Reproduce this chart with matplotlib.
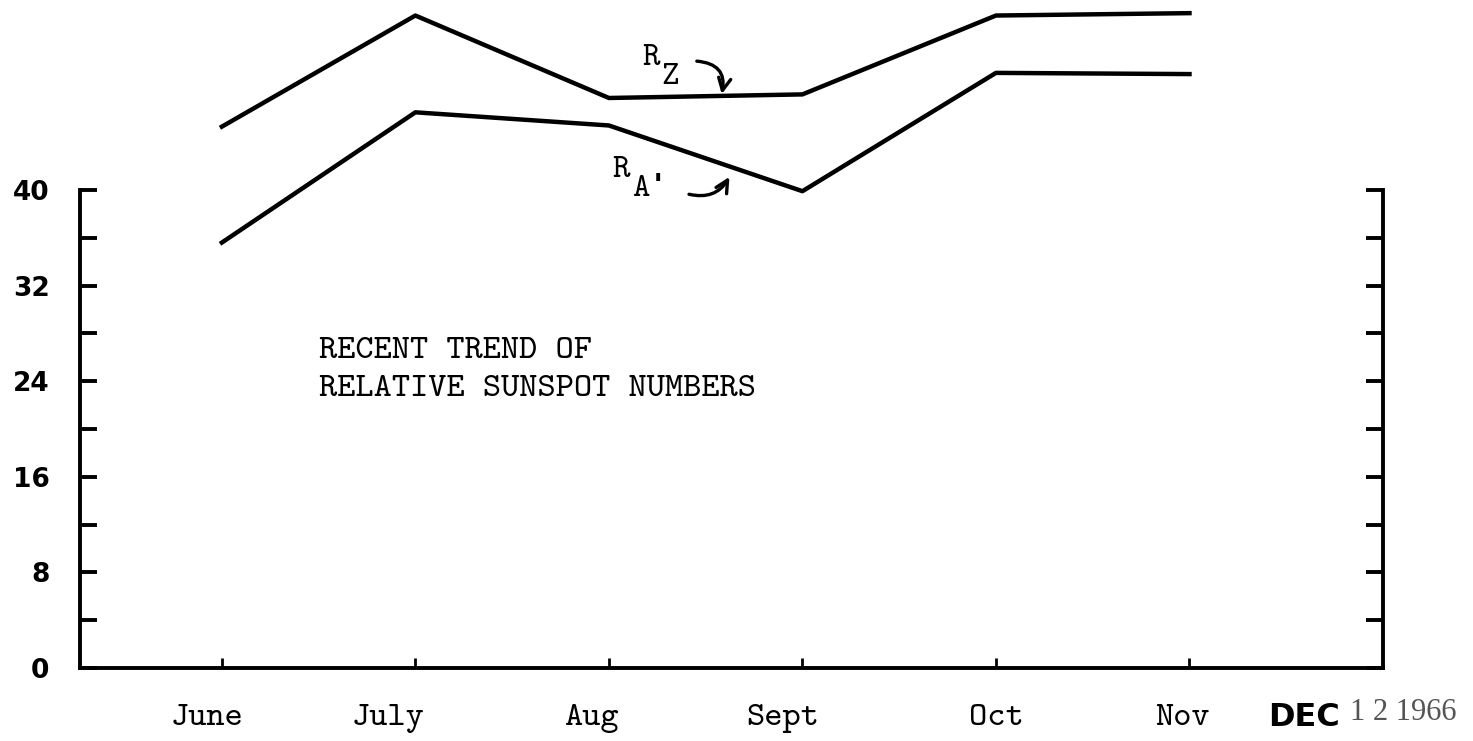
from matplotlib import pyplot as plt
from matplotlib import transforms
import numpy as np

months = ['June', 'July', 'Aug', 'Sept', 'Oct', 'Nov']
r_z = [45.3, 54.6, 47.7, 48.0, 54.6, 54.8]
r_a = [35.6, 46.5, 45.4, 39.9, 49.8, 49.7]
y_labels = [0, 8, 16, 24, 32, 40]

# typewriter look: computer modern typewriter ships with matplotlib
TYPE = ['cmtt10', 'Liberation Mono', 'DejaVu Sans Mono']

fig = plt.figure(figsize=(14.73, 7.41), dpi=100)
ax = fig.add_axes([80 / 1473, 73 / 741, 1303 / 1473, 478 / 741])

x = np.arange(len(months))
ax.plot(x, r_z, color='black', lw=3.2, clip_on=False)
ax.plot(x, r_a, color='black', lw=3.2, clip_on=False)

ax.set_xlim(-0.733, 6.0)
ax.set_ylim(0, 40)

ax.spines['top'].set_visible(False)
for side in ['left', 'right', 'bottom']:
    ax.spines[side].set_linewidth(2.8)

ax.set_xticks(x)
ax.set_xticklabels(months, fontfamily=TYPE, fontsize=25)
ax.tick_params(axis='x', direction='in', length=7, width=2, pad=26)
# the typed month names sit a little left of the tick marks
nudge = [-15, -27, -18, -20, 0, -7]
for lab, dx in zip(ax.get_xticklabels(), nudge):
    lab.set_transform(lab.get_transform() +
                      transforms.ScaledTranslation(dx / 100, 0, fig.dpi_scale_trans))

ax.set_yticks(y_labels)
ax.set_yticks(np.arange(4, 40, 8), minor=True)
ax.set_yticklabels([str(v) for v in y_labels], fontsize=19, fontweight='bold',
                   fontfamily='DejaVu Sans')
ax.tick_params(axis='y', which='both', direction='in', length=12, width=2.8,
               right=True, pad=22)

# title typed inside the plot
ax.text(0.5, 24.9, 'RECENT TREND OF\nRELATIVE SUNSPOT NUMBERS', fontfamily=TYPE,
        fontsize=25, va='center', ha='left', linespacing=1.45)

# series labels with little curved arrows
ax.text(2.17, 51.0, 'R', fontfamily=TYPE, fontsize=24, va='center', ha='left')
ax.text(2.27, 49.4, 'Z', fontfamily=TYPE, fontsize=24, va='center', ha='left')
ax.annotate('', xy=(2.58, 47.8), xytext=(2.44, 50.8), annotation_clip=False,
            arrowprops=dict(arrowstyle='->', lw=2.4, color='black',
                            connectionstyle='arc3,rad=-0.6', mutation_scale=22))

ax.text(2.02, 41.6, 'R', fontfamily=TYPE, fontsize=24, va='center', ha='left')
ax.text(2.12, 40.0, 'A', fontfamily=TYPE, fontsize=24, va='center', ha='left')
ax.text(2.205, 40.3, "'", fontfamily='DejaVu Sans Mono', fontsize=22,
        fontweight='bold', va='center', ha='left')
ax.annotate('', xy=(2.63, 41.3), xytext=(2.4, 39.7), annotation_clip=False,
            arrowprops=dict(arrowstyle='->', lw=2.4, color='black',
                            connectionstyle='arc3,rad=0.4', mutation_scale=22))

# date stamp
fig.text(1268 / 1473, 1 - 718 / 741, 'DEC', fontsize=23, fontweight='bold',
         fontfamily='DejaVu Sans', va='center', ha='left')
fig.text(1350 / 1473, 1 - 712 / 741, '1 2 1966', fontsize=22, color='#555555',
         fontfamily='Liberation Serif', va='center', ha='left')

fig.savefig('out.png', dpi=100)
